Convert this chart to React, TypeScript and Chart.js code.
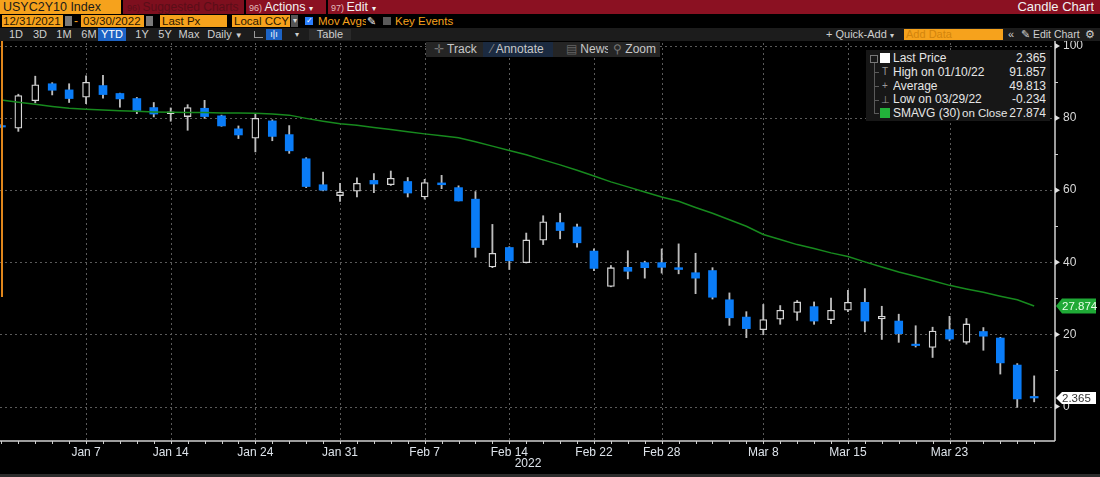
import { useEffect, useRef } from "react"
import { Chart, registerables } from "chart.js"

Chart.register(...registerables)

// USYC2Y10 Index, daily candles 12/31/2021 - 03/30/2022
const dates = [
  "Dec 31", "Jan 3", "Jan 4", "Jan 5", "Jan 6", "Jan 7", "Jan 10", "Jan 11", "Jan 12", "Jan 13",
  "Jan 14", "Jan 18", "Jan 19", "Jan 20", "Jan 21", "Jan 24", "Jan 25", "Jan 26", "Jan 27", "Jan 28",
  "Jan 31", "Feb 1", "Feb 2", "Feb 3", "Feb 4", "Feb 7", "Feb 8", "Feb 9", "Feb 10", "Feb 11",
  "Feb 14", "Feb 15", "Feb 16", "Feb 17", "Feb 18", "Feb 22", "Feb 23", "Feb 24", "Feb 25", "Feb 28",
  "Mar 1", "Mar 2", "Mar 3", "Mar 4", "Mar 7", "Mar 8", "Mar 9", "Mar 10", "Mar 11", "Mar 14",
  "Mar 15", "Mar 16", "Mar 17", "Mar 18", "Mar 21", "Mar 22", "Mar 23", "Mar 24", "Mar 25", "Mar 28",
  "Mar 29", "Mar 30",
]
const opens = [
  77.9, 77.2, 84.8, 89.5, 87.8, 85.8, 89.0, 86.8, 85.4, 82.9,
  81.2, 80.4, 82.7, 80.6, 77.0, 74.4, 79.2, 75.4, 68.7, 61.5,
  58.5, 59.7, 62.7, 61.5, 62.4, 58.1, 62.0, 60.7, 57.5, 38.7,
  44.1, 39.9, 46.1, 51.0, 49.8, 43.1, 33.3, 38.6, 39.9, 39.9,
  38.5, 37.1, 37.7, 29.6, 24.8, 21.3, 24.2, 26.1, 27.7, 24.1,
  26.7, 28.9, 24.3, 23.7, 17.3, 16.4, 21.3, 17.8, 20.8, 19.0,
  11.5, 2.8,
]
const highs = [
  78.2, 86.6, 91.6, 89.8, 89.5, 91.7, 91.857, 86.9, 85.7, 84.3,
  82.8, 83.7, 84.9, 80.8, 77.8, 81.2, 79.5, 77.9, 69.0, 65.0,
  61.9, 63.4, 64.6, 65.3, 63.5, 63.0, 64.1, 61.2, 59.6, 50.5,
  44.3, 48.1, 52.9, 53.6, 50.6, 43.7, 39.1, 43.2, 40.3, 43.7,
  45.1, 42.5, 38.5, 31.5, 26.3, 28.3, 28.0, 29.4, 29.0, 30.1,
  32.2, 32.7, 27.8, 25.6, 22.4, 22.0, 25.0, 24.4, 21.9, 19.2,
  11.9, 8.5,
]
const lows = [
  77.3, 76.3, 84.2, 86.4, 84.3, 84.0, 85.5, 83.0, 81.2, 80.3,
  79.1, 76.6, 79.9, 77.7, 74.3, 70.6, 73.7, 70.2, 60.7, 59.8,
  56.9, 58.1, 59.3, 61.3, 58.1, 57.5, 60.4, 57.0, 41.4, 38.5,
  38.0, 39.8, 44.9, 46.5, 44.2, 37.7, 33.2, 35.4, 35.6, 37.0,
  36.8, 31.3, 29.8, 22.5, 19.1, 19.9, 22.8, 23.9, 22.8, 23.0,
  26.3, 20.7, 18.6, 17.8, 16.5, 13.6, 18.2, 17.3, 15.6, 9.0,
  -0.234, 1.3,
]
const closes = [
  77.5, 86.2, 89.2, 87.7, 85.4, 89.9, 86.5, 85.3, 82.1, 81.1,
  81.7, 82.9, 80.4, 77.8, 75.3, 79.9, 74.9, 70.9, 61.0, 60.0,
  59.5, 61.9, 61.7, 63.3, 59.2, 62.1, 61.5, 57.0, 44.1, 42.5,
  40.4, 46.2, 51.2, 48.8, 45.4, 38.3, 38.5, 37.5, 38.5, 38.6,
  38.0, 35.6, 30.3, 24.6, 21.6, 24.1, 26.7, 29.0, 23.7, 26.7,
  28.9, 23.7, 25.0, 20.2, 16.9, 20.9, 18.7, 22.9, 19.5, 12.1,
  2.1, 2.365,
]
// SMAVG (30) on Close
const smavg = [
  85.0, 84.4, 83.8, 83.2, 82.7, 82.4, 82.2, 82.0, 81.9, 81.7,
  81.6, 81.5, 81.5, 81.4, 81.4, 81.3, 81.1, 80.8, 79.9, 79.1,
  78.4, 78.0, 77.4, 76.8, 76.2, 75.6, 75.1, 74.5, 73.4, 72.2,
  71.0, 69.8, 68.4, 67.0, 65.5, 63.9, 62.3, 60.9, 59.5, 58.1,
  56.9, 55.2, 53.6, 51.8, 50.0, 47.7, 46.3, 44.9, 43.8, 42.6,
  41.6, 40.1, 38.7, 37.3, 36.1, 34.9, 33.6, 32.6, 31.7, 30.6,
  29.6, 27.874,
]
const tickLabels = ["Jan 7", "Jan 14", "Jan 24", "Jan 31", "Feb 7", "Feb 14", "Feb 22", "Feb 28", "Mar 8", "Mar 15", "Mar 23"]
const yTicks = [0, 20, 40, 60, 80, 100]
const yMinorTicks = [10, 30, 50, 70, 90]

const FONT = "'Liberation Sans', Arial, sans-serif"
const BLUE = "#0a7cf7"
const ORANGE = "#f6a21c"

// grid, axis lines, day ticks, flags and price tags
const bbgPlugin = {
  id: "bbgDecor",
  beforeDatasetsDraw(chart: any) {
    const { ctx, chartArea: a } = chart
    const xs = chart.scales.x
    const ys = chart.scales.y
    ctx.save()
    ctx.strokeStyle = "#5a5a5a"
    ctx.lineWidth = 1
    ctx.setLineDash([2, 3])
    ctx.beginPath()
    yTicks.forEach((v) => {
      const py = Math.round(ys.getPixelForValue(v)) + 0.5
      ctx.moveTo(a.left, py)
      ctx.lineTo(a.right, py)
    })
    tickLabels.forEach((l) => {
      const px = Math.round(xs.getPixelForValue(dates.indexOf(l))) + 0.5
      ctx.moveTo(px, a.top)
      ctx.lineTo(px, a.bottom)
    })
    ctx.stroke()
    ctx.restore()
  },
  afterDraw(chart: any) {
    const { ctx, chartArea: a } = chart
    const xs = chart.scales.x
    const ys = chart.scales.y
    ctx.save()
    ctx.strokeStyle = "#cfcfcf"
    ctx.fillStyle = "#e0e0e0"
    ctx.lineWidth = 1.5
    ctx.beginPath()
    ctx.moveTo(a.left, a.bottom)
    ctx.lineTo(a.right, a.bottom)
    ctx.moveTo(a.right, a.top - 2)
    ctx.lineTo(a.right, a.bottom)
    ctx.stroke()

    ctx.lineWidth = 1
    ctx.beginPath()
    dates.forEach((_, i) => {
      const px = Math.round(xs.getPixelForValue(i)) + 0.5
      if (px < a.left || px > a.right) return
      ctx.moveTo(px, a.bottom)
      ctx.lineTo(px, a.bottom + 3)
    })
    yMinorTicks.forEach((v) => {
      const py = Math.round(ys.getPixelForValue(v)) + 0.5
      ctx.moveTo(a.right, py)
      ctx.lineTo(a.right + 3, py)
    })
    ctx.stroke()

    yTicks.forEach((v) => {
      const py = ys.getPixelForValue(v)
      ctx.beginPath()
      ctx.moveTo(a.right, py - 3)
      ctx.lineTo(a.right + 5, py)
      ctx.lineTo(a.right, py + 3)
      ctx.closePath()
      ctx.fill()
    })

    const tag = (value: number, text: string, bg: string, fg: string, h: number) => {
      const py = ys.getPixelForValue(value)
      const x0 = a.right + 1
      ctx.beginPath()
      ctx.moveTo(x0, py)
      ctx.lineTo(x0 + 6, py - h / 2)
      ctx.lineTo(x0 + 40, py - h / 2)
      ctx.lineTo(x0 + 40, py + h / 2)
      ctx.lineTo(x0 + 6, py + h / 2)
      ctx.closePath()
      ctx.fillStyle = bg
      ctx.fill()
      ctx.fillStyle = fg
      ctx.font = `11.5px ${FONT}`
      ctx.textBaseline = "middle"
      ctx.textAlign = "left"
      ctx.fillText(text, x0 + 6, py + 0.5)
    }
    tag(smavg[smavg.length - 1], smavg[smavg.length - 1].toFixed(3), "#1fa936", "#e8ffe8", 15)
    tag(closes[closes.length - 1], closes[closes.length - 1].toFixed(3), "#ffffff", "#333333", 12)

    // range start marker
    ctx.fillStyle = "#e0861c"
    ctx.fillRect(a.left + 1, a.top - 2, 2, 256)
    ctx.restore()
  },
}

function Box(props: any) {
  const { x, y, w, h, bg, color, size = 12, align = "left", pad = 0, children, weight } = props
  return (
    <div
      style={{
        position: "absolute", left: x, top: y, width: w, height: h, background: bg, color,
        fontSize: size, lineHeight: h + "px", textAlign: align, paddingLeft: pad,
        boxSizing: "border-box", whiteSpace: "nowrap", overflow: "hidden", fontWeight: weight,
      }}
    >
      {children}
    </div>
  )
}

export default function App() {
  const chartRef = useRef<HTMLCanvasElement>(null)
  const chartInstance = useRef<Chart | null>(null)

  useEffect(() => {
    if (!chartRef.current) return
    if (chartInstance.current) chartInstance.current.destroy()

    const up: any[] = []
    const down: any[] = []
    const wicks: any[] = []
    dates.forEach((_, i) => {
      wicks.push({ x: i, y: [lows[i], highs[i]] })
      if (closes[i] >= opens[i]) up.push({ x: i, y: [opens[i], closes[i]] })
      else down.push({ x: i, y: [closes[i], opens[i]] })
    })
    const labelIdx = tickLabels.map((l) => dates.indexOf(l))

    chartInstance.current = new Chart(chartRef.current, {
      type: "bar",
      data: {
        datasets: [
          {
            type: "line",
            label: "SMAVG (30)",
            data: smavg.map((v, i) => ({ x: i, y: v })),
            borderColor: "#178a1e",
            borderWidth: 1.5,
            pointRadius: 0,
            order: 0,
          } as any,
          {
            label: "up",
            data: up,
            backgroundColor: "#000000",
            borderColor: "#d6d6d6",
            borderWidth: 1.3,
            borderSkipped: false,
            barThickness: 7,
            grouped: false,
            order: 1,
          },
          {
            label: "down",
            data: down,
            backgroundColor: BLUE,
            borderWidth: 0,
            barThickness: 8,
            grouped: false,
            order: 1,
          },
          {
            label: "wick",
            data: wicks,
            backgroundColor: "#bdbdbd",
            borderWidth: 0,
            barThickness: 1.2,
            grouped: false,
            order: 2,
          },
        ],
      },
      options: {
        animation: false,
        responsive: true,
        maintainAspectRatio: false,
        events: [],
        layout: { padding: { top: 2, left: 0, right: 0, bottom: 0 } },
        plugins: { legend: { display: false }, tooltip: { enabled: false } },
        scales: {
          x: {
            type: "linear",
            min: -0.083,
            max: 62.23,
            offset: false,
            grid: { display: false, drawTicks: false },
            border: { display: false },
            afterBuildTicks: (s: any) => {
              s.ticks = labelIdx.map((v) => ({ value: v }))
            },
            afterFit: (s: any) => {
              s.height = 32
              s.paddingLeft = 0
              s.paddingRight = 0
            },
            ticks: {
              autoSkip: false,
              maxRotation: 0,
              padding: 4,
              color: "#dde3ea",
              font: { family: FONT, size: 12 },
              callback: (v: any) => dates[v],
            },
          },
          y: {
            position: "right",
            min: -9.56,
            max: 100.8,
            grid: { display: false, drawTicks: false },
            border: { display: false },
            afterBuildTicks: (s: any) => {
              s.ticks = yTicks.map((v) => ({ value: v }))
            },
            afterFit: (s: any) => {
              s.width = 45
              s.paddingTop = 0
              s.paddingBottom = 0
            },
            ticks: {
              padding: 8,
              color: "#d8d8d8",
              font: { family: FONT, size: 12 },
              callback: (v: any) => String(v),
            },
          },
        },
      } as any,
      plugins: [bbgPlugin],
    })

    return () => {
      if (chartInstance.current) {
        chartInstance.current.destroy()
        chartInstance.current = null
      }
    }
  }, [])

  const btn = "#cfcfcf"

  return (
    <div style={{ position: "fixed", left: 0, top: 0, width: 1100, height: 477, background: "#000", overflow: "hidden", fontFamily: FONT }}>
      {/* title bar */}
      <Box x={0} y={0} w={1100} h={14} bg="#8b1122" />
      <Box x={0} y={0} w={121} h={14} bg={ORANGE} color="#1a1a1a" pad={3} size={12.5}>USYC2Y10 Index</Box>
      <Box x={121} y={0} w={2} h={14} bg="#000" />
      <Box x={123} y={0} w={121} h={14} bg="#7e0f1e" color="#5a0e18" pad={4} size={12}>
        <span style={{ fontSize: 9 }}>96) </span>Suggested Charts
      </Box>
      <Box x={244} y={0} w={2} h={14} bg="#000" />
      <Box x={246} y={0} w={80} h={14} bg="#8b1122" color="#f2f2f2" pad={3} size={12.5}>
        <span style={{ fontSize: 9, color: "#e4bcbc" }}>96) </span>Actions <span style={{ fontSize: 8 }}>▾</span>
      </Box>
      <Box x={326} y={0} w={2} h={14} bg="#000" />
      <Box x={328} y={0} w={54} h={14} bg="#8b1122" color="#f2f2f2" pad={3} size={12.5}>
        <span style={{ fontSize: 9, color: "#e4bcbc" }}>97) </span>Edit <span style={{ fontSize: 8 }}>▾</span>
      </Box>
      <Box x={980} y={0} w={114} h={14} color="#f2f2f2" align="right" size={13}>Candle Chart</Box>

      {/* settings row */}
      <Box x={2} y={15} w={61} h={12} bg={ORANGE} color="#2b1800" pad={1} size={11.5}>12/31/2021</Box>
      <Box x={65} y={16} w={7} h={10} bg="#7a7a7a" />
      <Box x={74} y={14} w={6} h={14} color={ORANGE}>-</Box>
      <Box x={81} y={15} w={63} h={12} bg={ORANGE} color="#2b1800" pad={2} size={11.5}>03/30/2022</Box>
      <Box x={146} y={16} w={7} h={10} bg="#7a7a7a" />
      <Box x={160} y={15} w={67} h={12} bg={ORANGE} color="#2b1800" pad={2} size={11.5}>Last Px</Box>
      <Box x={232} y={15} w={58} h={12} bg={ORANGE} color="#2b1800" pad={2} size={11.5}>Local CCY</Box>
      <Box x={291} y={15} w={7} h={12} bg="#555" color="#ddd" size={8} align="center">▾</Box>
      <Box x={305} y={17} w={8} h={8} bg="#2a7fff" color="#fff" size={8} align="center">✓</Box>
      <Box x={318} y={14} w={48} h={14} color={ORANGE} size={11.5}>Mov Avgs</Box>
      <Box x={367} y={14} w={10} h={14} color="#eee" size={11}>✎</Box>
      <Box x={383} y={17} w={8} h={8} bg="#5a5a5a" />
      <Box x={395} y={14} w={60} h={14} color={ORANGE} size={11.5}>Key Events</Box>

      {/* toolbar row */}
      <Box x={0} y={28} w={1100} h={13} bg="#1c1c1c" />
      {[["1D", 5], ["3D", 29], ["1M", 53], ["6M", 78], ["1Y", 131], ["5Y", 154], ["Max", 178]].map(([t, x]) => (
        <Box key={t as string} x={x} y={28} w={22} h={13} color={btn} size={11} align="center">{t}</Box>
      ))}
      <Box x={98} y={28} w={28} h={13} bg="#1c63c5" color="#fff" size={11} align="center">YTD</Box>
      <Box x={205} y={28} w={40} h={13} color={btn} size={11} align="center">Daily <span style={{ fontSize: 8 }}>▼</span></Box>
      <div style={{ position: "absolute", left: 254, top: 31, width: 8, height: 6, borderLeft: "1px solid #999", borderBottom: "1px solid #999" }} />
      <Box x={266} y={29} w={16} h={11} bg="#1c63c5" color="#fff" size={9} align="center">ı|ı</Box>
      <Box x={292} y={28} w={10} h={13} color={btn} size={8} align="center">▾</Box>
      <Box x={309} y={29} w={42} h={11} bg="#2a2a2a" color={btn} size={11} align="center">Table</Box>
      <Box x={826} y={28} w={70} h={13} color={btn} size={11}>+ Quick-Add <span style={{ fontSize: 8 }}>▾</span></Box>
      <Box x={904} y={29} w={99} h={11} bg={ORANGE} color="#d3850c" size={11} pad={2}>Add Data</Box>
      <Box x={1008} y={28} w={10} h={13} color={btn} size={11}>«</Box>
      <Box x={1021} y={28} w={62} h={13} color={btn} size={10.5}>✎ Edit Chart</Box>
      <Box x={1085} y={28} w={12} h={13} color={btn} size={11}>⚙</Box>

      {/* chart */}
      <div style={{ position: "absolute", left: 0, top: 41, width: 1100, height: 432 }}>
        <canvas ref={chartRef}></canvas>
      </div>
      <Box x={508} y={456} w={40} h={14} color="#dde3ea" align="center">2022</Box>
      <Box x={0} y={474} w={1100} h={3} bg="#2c2c2c" />

      {/* chart tools */}
      <Box x={426} y={42} w={234} h={15} bg="#252525" />
      <Box x={434} y={42} w={48} h={15} color="#c8c8c8"><span style={{ color: "#777" }}>✛</span> Track</Box>
      <Box x={483} y={42} w={70} h={15} bg="#1b2a40" color="#c8c8c8" pad={8}><span style={{ color: "#888" }}>⁄</span> Annotate</Box>
      <Box x={566} y={42} w={42} h={15} color="#c8c8c8"><span style={{ color: "#666" }}>▤</span> News</Box>
      <Box x={613} y={42} w={46} h={15} color="#c8c8c8"><span style={{ color: "#777" }}>⚲</span> Zoom</Box>

      {/* legend */}
      <div style={{ position: "absolute", left: 866, top: 50, width: 184, height: 71, background: "#171717" }} />
      <div style={{ position: "absolute", left: 870, top: 55, width: 6, height: 6, border: "1px solid #777" }} />
      <div style={{ position: "absolute", left: 874, top: 63, width: 1, height: 51, background: "#5a5a5a" }} />
      {[72, 86, 100, 113].map((y) => (
        <div key={y} style={{ position: "absolute", left: 874, top: y, width: 5, height: 1, background: "#5a5a5a" }} />
      ))}
      <Box x={880} y={53} w={10} h={10} bg="#ffffff" />
      <Box x={880} y={65} w={10} h={14} color="#999" size={10} align="center">T</Box>
      <Box x={880} y={79} w={10} h={14} color="#999" size={10} align="center">+</Box>
      <Box x={880} y={93} w={10} h={14} color="#999" size={10} align="center">⊥</Box>
      <Box x={880} y={108} w={10} h={10} bg="#22b33a" />
      {[
        ["Last Price", "2.365"],
        ["High on 01/10/22", "91.857"],
        ["Average", "49.813"],
        ["Low on 03/29/22", "-0.234"],
        ["SMAVG (30)", "27.874"],
      ].map(([l, v], i) => (
        <div key={l}>
          <Box x={893} y={51 + i * 13.8} w={110} h={14} color="#e6e6e6" size={12}>{l}</Box>
          <Box x={1005} y={51 + i * 13.8} w={41} h={14} color="#e6e6e6" size={12} align="right">{v}</Box>
        </div>
      ))}
      <Box x={962} y={51 + 4 * 13.8} w={46} h={14} color="#e6e6e6" size={11.5}>on Close</Box>
    </div>
  )
}
